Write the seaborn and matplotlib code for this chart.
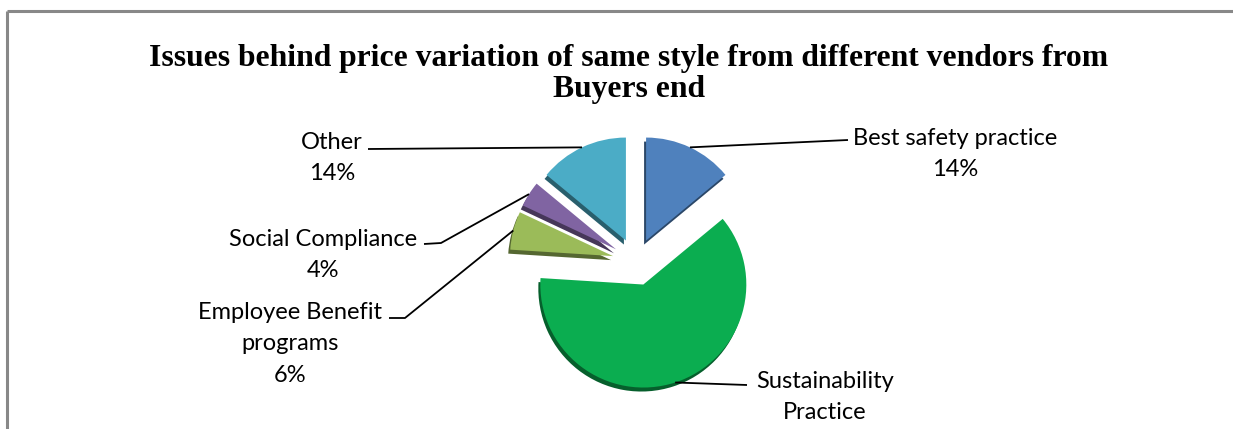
import numpy as np
import matplotlib
matplotlib.use("Agg")
import matplotlib.pyplot as plt
import matplotlib.colors as mcolors
import seaborn as sns

# ---- data ----
categories = ["Best safety practice", "Sustainability\nPractice", "Employee Benefit\nprograms",
              "Social Compliance", "Other"]
values = [14, 62, 6, 4, 14]
show_pct = [True, False, True, True, True]
colors = ["#4F81BD", "#0BAD50", "#9BBB59", "#8064A2", "#4BACC6"]
title = "Issues behind price variation of same style from different vendors from\nBuyers end"

sns.set_theme(style="white")
plt.rcParams["font.family"] = ["Lato", "DejaVu Sans"]
plt.rcParams["text.color"] = "black"

W, H = 1233, 429
fig = plt.figure(figsize=(W / 100, H / 100), dpi=100)
ax = fig.add_axes([0, 0, 1, 1])

def Y(y):
    return H - y

cx, cy, R = 636, Y(262), 103
explode = [0.23 * R] * len(values)   # matplotlib explode is in data units

# depth (3D edge) layer
dark = [tuple(np.array(mcolors.to_rgb(c)) * 0.55) for c in colors]
ax.pie(values, colors=dark, startangle=90, counterclock=False, explode=explode,
       center=(cx - 2, cy - 4), radius=R, frame=True,
       wedgeprops=dict(linewidth=0))
wedges, _ = ax.pie(values, colors=colors, startangle=90, counterclock=False, explode=explode,
                   center=(cx, cy), radius=R, frame=True,
                   wedgeprops=dict(linewidth=0))
ax.set_xlim(0, W)
ax.set_ylim(0, H)
ax.set_aspect("auto")
ax.axis("off")

# label layout (image coords): text center, leader-line path end points
label_pos = [(955, 154), (825, 397), (290, 344), (323, 255), (332, 158)]
line_end = [[(848, 140)], [(747, 385)], [(405, 318), (389, 318)],
            [(441, 243), (424, 244)], [(368, 149)]]

for w, cat, v, sp, lp, le in zip(wedges, categories, values, show_pct, label_pos, line_end):
    mid = np.deg2rad((w.theta1 + w.theta2) / 2)
    px = w.center[0] + w.r * np.cos(mid)
    py = w.center[1] + w.r * np.sin(mid)
    xs = [px] + [p[0] for p in le]
    ys = [py] + [Y(p[1]) for p in le]
    ax.plot(xs, ys, color="black", lw=1.3, solid_capstyle="butt")
    txt = cat + (f"\n{v}%" if sp else "")
    ax.text(lp[0], Y(lp[1]), txt, ha="center", va="center", fontsize=17,
            linespacing=1.62, color="black")

fig.text(629 / W, 1 - 74 / H, title, ha="center", va="center", fontsize=22.8,
         fontweight="bold", family=["Liberation Serif"], linespacing=1.12, color="black")

# outer chart border (top and left visible)
ax.plot([6.5, W], [Y(10.5), Y(10.5)], color="#888888", lw=2.2, solid_capstyle="butt")
ax.plot([6.5, 6.5], [Y(10.5), 0], color="#888888", lw=2.2, solid_capstyle="butt")

fig.savefig("out.png", dpi=100)
